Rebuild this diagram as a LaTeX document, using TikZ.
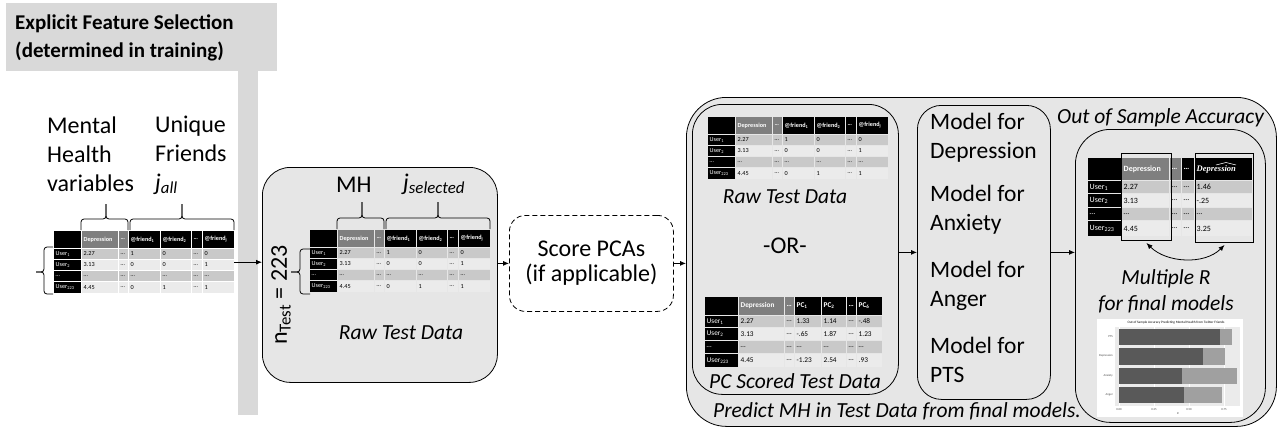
\documentclass[tikz,border=0pt]{standalone}
\usepackage{fontspec}
\setmainfont{Carlito}
\newfontfamily\serifcam{Liberation Serif}
\usetikzlibrary{arrows.meta}
\definecolor{boxgray}{HTML}{E6E6E6}
\definecolor{hdrgray}{HTML}{D9D9D9}
\definecolor{colgray}{HTML}{7F7F7F}
\definecolor{rowA}{HTML}{C9C9C9}
\definecolor{rowB}{HTML}{EBEBEB}
\definecolor{bardark}{HTML}{595959}
\definecolor{barlight}{HTML}{A0A0A0}
\definecolor{panel}{HTML}{EBEBEB}
\newcommand\bigfont{\fontsize{24}{29}\selectfont}
\newcommand\modelfont{\fontsize{23.5}{29}\selectfont}
\newcommand\itfont{\fontsize{21.5}{26}\selectfont\itshape}
\newcommand\hdrfont{\fontsize{21}{28}\selectfont\bfseries}
\newcommand\hatdep{\serifcam\itshape\fontsize{8.5}{9}\selectfont Depression}
\def\cellfs{6.2}
\tikzset{
  cellfont/.style={font=\fontsize{\cellfs}{\cellfs}\selectfont},
  conn/.style={-{Latex[length=6pt,width=5pt]}, line width=0.8pt},
  boxline/.style={draw, line width=0.8pt, fill=boxgray, anchor=north west},
  bracepath/.style={rounded corners=3pt, line width=0.8pt},
  tiny/.style={font=\fontsize{3}{3.5}\selectfont, text=black!70}
}
\newcount\cellno
\newcommand\tcell[7]{%
  \global\advance\cellno by 1
  \fill[#5] (#1,#3) rectangle (#2,#4);
  \node[cellfont, text=#6, anchor=west, inner sep=0pt] (cell\the\cellno) at ({#1+1.5},{(#3+#4)/2}) {#7};%
}
\newcommand\datatable[3]{%
  \begin{scope}[shift={(#1)}]
    \foreach \ya/\yb/\yc/\yd/\ye/\yf/\yg/\yh/\yi/\yj in {#2}{%
      \foreach \xa/\xb/\hf/\fa/\fb/\tcol/\hd/\va/\vb/\vc/\vd in {#3}{%
        \tcell{\xa}{\xb}{\ya}{\yb}{\hf}{white}{\bfseries\hd}%
        \tcell{\xa}{\xb}{\yc}{\yd}{\fa}{\tcol}{\va}%
        \tcell{\xa}{\xb}{\ye}{\yf}{\fb}{\tcol}{\vb}%
        \tcell{\xa}{\xb}{\yg}{\yh}{\fa}{\tcol}{\vc}%
        \tcell{\xa}{\xb}{\yi}{\yj}{\fb}{\tcol}{\vd}%
      }%
    }%
  \end{scope}}
\newcommand\friendtable[1]{%
  \datatable{#1}{0/17/18/28/29/39/40/50/51/62}{%
    0/27/black/black/black/white/{}/{User\textsubscript{1}}/{User\textsubscript{2}}/{…}/{User\textsubscript{223}},
    28/64/colgray/rowA/rowB/black/Depression/2.27/3.13/…/4.45,
    65/74/colgray/rowA/rowB/black/…/…/…/…/…,
    75/106/black/rowA/rowB/black/{@friend\textsubscript{1}}/1/0/…/0,
    107/137/black/rowA/rowB/black/{@friend\textsubscript{2}}/0/0/…/1,
    138/148/black/rowA/rowB/black/…/…/…/…/…,
    149/180/black/rowA/rowB/black/{@friend\textsubscript{j}}/0/1/…/1}}
\newcommand\topbrace[6]{%
  \draw[bracepath] (#1,#4) -- (#1,#5) -- (#3,#5) -- (#3,#6);
  \draw[bracepath] (#2,#4) -- (#2,#5) -- (#3,#5) -- (#3,#6);}
\newcommand\sidebrace[6]{%
  \draw[bracepath] (#1,#4) -- (#2,#4) -- (#2,#6) -- (#3,#6);
  \draw[bracepath] (#1,#5) -- (#2,#5) -- (#2,#6) -- (#3,#6);}
\begin{document}
\begin{tikzpicture}[x=1pt,y=-1pt, every node/.style={inner sep=0pt}]
\useasboundingbox (0,0) rectangle (1281,436);
\fill[white] (0,0) rectangle (1281,436);

% header and vertical bar
\node[fill=hdrgray, minimum width=271pt, minimum height=68pt, anchor=north west] (hdr) at (6,3) {};
\node[anchor=base west, align=left, font=\hdrfont] (hdrtext) at (15,57) {Explicit Feature Selection\\(determined in training)};
\fill[hdrgray] (238,70) rectangle (258,415);

% left part
\node[anchor=base west, align=left, font=\bigfont] (mhlab) at (47,191) {Mental\\Health\\variables};
\node[anchor=base west, align=left, font=\bigfont] (uflab) at (155,190) {Unique\\Friends\\\textit{j\textsubscript{all}}};
\topbrace{81}{128}{106}{230}{219}{204}
\topbrace{130}{234}{182}{230}{219}{204}
\sidebrace{53}{44}{36}{247}{294}{272}
\node[minimum width=180pt, minimum height=62pt, anchor=north west] (ltab) at (54,231) {};
\friendtable{54,231}

% middle box
\node[boxline, rounded corners=28pt, minimum width=235pt, minimum height=215pt] (mid) at (262,167) {};
\node[anchor=base west, font=\bigfont] (mhm) at (336,192) {MH};
\node[anchor=base west, font=\bigfont] (jsel) at (403,190) {\textit{j\textsubscript{selected}}};
\node[rotate=90, font=\bigfont] (ntest) at (281,295) {n\textsubscript{Test} = 223};
\topbrace{337}{384}{362}{229}{218}{202}
\topbrace{386}{490}{438}{229}{218}{202}
\sidebrace{310}{300}{291}{249}{294}{272}
\friendtable{310,230}
\node[anchor=base, font=\itfont] (rawm) at (401,339) {Raw Test Data};

% dashed PCA box
\node[draw, dashed, dash pattern=on 5pt off 3pt, line width=0.8pt, rounded corners=16pt, minimum width=164pt, minimum height=96pt, anchor=north west, align=center, font=\fontsize{24}{25}\selectfont] (pca) at (509,215) {Score PCAs\\(if applicable)};

% outer box and inner boxes
\node[boxline, rounded corners=40pt, minimum width=590pt, minimum height=329pt] (outer) at (686,97) {};
\node[boxline, rounded corners=30pt, minimum width=206pt, minimum height=290pt] (inl) at (692,104) {};
\node[boxline, rounded corners=24pt, minimum width=133pt, minimum height=294pt] (mdl) at (917,105) {};
\node[boxline, rounded corners=35pt, minimum width=190pt, minimum height=293pt] (rbox) at (1075,129) {};

% raw test data (right)
\friendtable{708,117}
\node[anchor=base, font=\itfont] (rawr) at (785,203) {Raw Test Data};
\node[anchor=base, font=\fontsize{24}{26}\selectfont] (orlab) at (785,253) {-OR-};

% PC scored table
\def\cellfs{7.3}
\datatable{705,297}{0/18/19/30/31/43/44/56/57/70}{%
  0/33/black/black/black/white/{}/{User\textsubscript{1}}/{User\textsubscript{2}}/{…}/{User\textsubscript{223}},
  34/79/colgray/rowA/rowB/black/Depression/2.27/3.13/…/4.45,
  80/89/colgray/rowA/rowB/black/…/…/…/…/…,
  90/116/black/rowA/rowB/black/{PC\textsubscript{1}}/1.33/-.65/…/-1.23,
  117/141/black/rowA/rowB/black/{PC\textsubscript{2}}/1.14/1.87/…/2.54,
  142/151/black/rowA/rowB/black/…/…/…/…/…,
  152/177/black/rowA/rowB/black/{PC\textsubscript{6}}/-.48/1.23/…/.93}
\node[anchor=base, font=\itfont] (pclab) at (795,388) {PC Scored Test Data};
\node[anchor=base west, font=\itfont] (predlab) at (713,417) {Predict MH in Test Data from final models.};

% models
\node[anchor=base west, align=left, font=\modelfont] (m1) at (930,158) {Model for\\Depression};
\node[anchor=base west, align=left, font=\modelfont] (m2) at (930,230) {Model for\\Anxiety};
\node[anchor=base west, align=left, font=\modelfont] (m3) at (930,306) {Model for\\Anger};
\node[anchor=base west, align=left, font=\modelfont] (m4) at (930,382) {Model for\\PTS};

% out of sample accuracy
\node[anchor=base west, font=\itfont] (ooslab) at (1057,123) {Out of Sample Accuracy};
\def\cellfs{8}
\datatable{1088,158}{0/22/23/35/36/49/50/62/63/78}{%
  0/33/black/black/black/white/{}/{User\textsubscript{1}}/{User\textsubscript{2}}/{…}/{User\textsubscript{223}},
  34/81/colgray/rowA/rowB/black/Depression/2.27/3.13/…/4.45,
  82/93/colgray/rowA/rowB/black/…/…/…/…/…,
  94/106/black/rowA/rowB/black/…/…/…/…/…,
  107/164/black/rowA/rowB/black/{\hatdep}/1.46/-.25/…/3.25}
\draw[white, line width=0.5pt] (1216,165) -- (1226,162.5) -- (1236,165);
\node[draw, line width=1pt, minimum width=50pt, minimum height=87pt, anchor=north west] (obsbox) at (1121,153) {};
\node[draw, line width=1pt, minimum width=58pt, minimum height=89pt, anchor=north west] (predbox) at (1195,153) {};
\draw[{Latex[length=6pt,width=5pt]}-{Latex[length=6pt,width=5pt]}, line width=0.8pt] ([yshift=-2pt]obsbox.south) .. controls +(20,20) and +(-20,20) .. ([yshift=-2pt]predbox.south);
\node[anchor=base, align=center, font=\fontsize{21.5}{26}\selectfont\itshape] (mrlab) at (1166,310) {Multiple R\\for final models};

% bar chart
\fill[white] (1097,319) rectangle (1243,417);
\node[font=\fontsize{3.4}{4}\selectfont] (charttitle) at (1176,323) {Out of Sample Accuracy Predicting Mental Health from Twitter Friends};
\fill[panel] (1115,327) rectangle (1240,406);
\foreach \gx in {1119,1154,1189,1224} {\draw[white, line width=0.4pt] (\gx,327) -- (\gx,406);}
\fill[barlight] (1119,329) rectangle (1232,345);
\fill[bardark] (1119,329) rectangle (1220,345);
\fill[barlight] (1119,348) rectangle (1225,365);
\fill[bardark] (1119,348) rectangle (1203,365);
\fill[barlight] (1119,368) rectangle (1237,384);
\fill[bardark] (1119,368) rectangle (1182,384);
\fill[barlight] (1119,387) rectangle (1222,403);
\fill[bardark] (1119,387) rectangle (1184,403);
\node[tiny, anchor=east] (yl1) at (1113,337) {PTS};
\node[tiny, anchor=east] (yl2) at (1113,356) {Depression};
\node[tiny, anchor=east] (yl3) at (1113,376) {Anxiety};
\node[tiny, anchor=east] (yl4) at (1113,395) {Anger};
\node[tiny] (xl1) at (1119,409.5) {0.00};
\node[tiny] (xl2) at (1154,409.5) {0.25};
\node[tiny] (xl3) at (1189,409.5) {0.50};
\node[tiny] (xl4) at (1224,409.5) {0.75};
\node[tiny] (xlab) at (1178,414) {R};

% connectors
\draw[conn] (ltab.east) -- (ltab.east -| mid.west);
\draw[conn] (mid.east |- pca.west) -- (pca.west);
\draw[conn] (pca.east) -- (pca.east -| outer.west);
\draw[conn] (inl.east |- mdl.west) -- (mdl.west);
\draw[conn] (mdl.east) -- (mdl.east -| rbox.west);
\end{tikzpicture}
\end{document}
